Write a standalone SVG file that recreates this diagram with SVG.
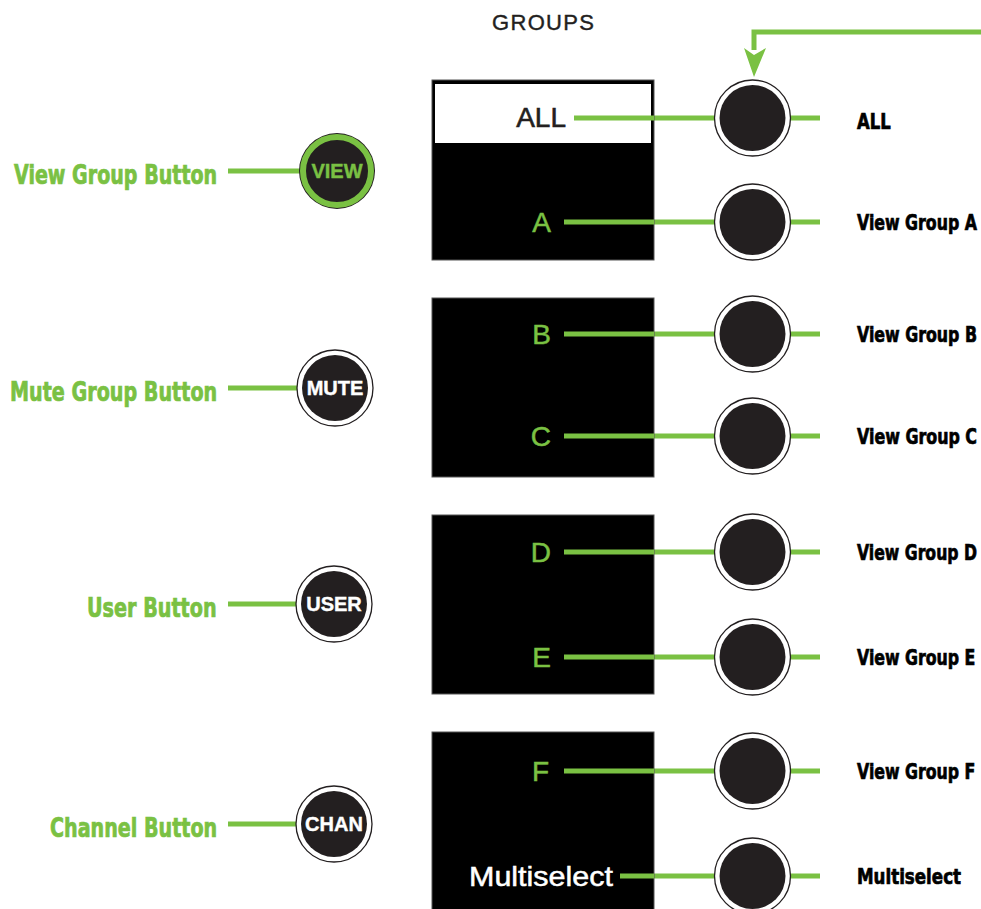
<svg xmlns="http://www.w3.org/2000/svg" width="981" height="909" viewBox="0 0 981 909">
<style>
.ln{stroke:#7ac143;stroke-width:5;fill:none}
.box{fill:#000;stroke:#555;stroke-width:1}
.ko{fill:#fff;stroke:#231f20;stroke-width:1.3}
.ki{fill:#231f20}
.bl{font-family:"Liberation Sans",Arial,sans-serif;font-size:28px;fill:#7ac143;stroke:#7ac143;stroke-width:0.5;text-anchor:end}
.rl{font-family:"DejaVu Sans Condensed","DejaVu Sans",sans-serif;font-weight:bold;font-stretch:condensed;font-size:22px;fill:#000;stroke:#000;stroke-width:0.7}
.ll{font-family:"DejaVu Sans Condensed","DejaVu Sans",sans-serif;font-weight:bold;font-stretch:condensed;font-size:26px;fill:#7ac143;stroke:#7ac143;stroke-width:0.7}
.bt{font-family:"Liberation Sans",Arial,sans-serif;font-weight:bold;font-size:20px;fill:#fff;stroke:#fff;stroke-width:0.4;text-anchor:middle}
</style>
<rect width="981" height="909" fill="#fff"/>
<text x="543" y="30" font-family="Liberation Sans,Arial,sans-serif" font-size="22" fill="#231f20" stroke="#231f20" stroke-width="0.4" text-anchor="middle" textLength="102">GROUPS</text>

<g id="connectors">
<path class="ln" d="M981,32 H754 V50"/>
<path d="M744,48 L754,55 L766,48 L754,77 Z" fill="#7ac143"/>
<line class="ln" x1="228" y1="171" x2="300" y2="171"/>
<line class="ln" x1="228" y1="388" x2="300" y2="388"/>
<line class="ln" x1="228" y1="604" x2="300" y2="604"/>
<line class="ln" x1="228" y1="824" x2="300" y2="824"/>
<line class="ln" x1="574" y1="118" x2="720" y2="118"/>
<line class="ln" x1="564" y1="222" x2="720" y2="222"/>
<line class="ln" x1="564" y1="334" x2="720" y2="334"/>
<line class="ln" x1="564" y1="436" x2="720" y2="436"/>
<line class="ln" x1="564" y1="552" x2="720" y2="552"/>
<line class="ln" x1="564" y1="657" x2="720" y2="657"/>
<line class="ln" x1="564" y1="771" x2="720" y2="771"/>
<line class="ln" x1="620" y1="876" x2="720" y2="876"/>
<line class="ln" x1="786" y1="118" x2="820" y2="118"/>
<line class="ln" x1="786" y1="222" x2="820" y2="222"/>
<line class="ln" x1="786" y1="334" x2="820" y2="334"/>
<line class="ln" x1="786" y1="436" x2="820" y2="436"/>
<line class="ln" x1="786" y1="552" x2="820" y2="552"/>
<line class="ln" x1="786" y1="657" x2="820" y2="657"/>
<line class="ln" x1="786" y1="771" x2="820" y2="771"/>
<line class="ln" x1="786" y1="876" x2="820" y2="876"/>
</g>

<g id="box1">
<rect class="box" x="432" y="80" width="222" height="180"/>
<rect x="435" y="84" width="216" height="59" fill="#fff"/>
<line class="ln" x1="574" y1="118" x2="654" y2="118"/>
<text x="566" y="127" font-family="Liberation Sans,Arial,sans-serif" font-size="28" fill="#231f20" stroke="#231f20" stroke-width="0.6" text-anchor="end">ALL</text>
<text class="bl" x="551" y="232">A</text>
<line class="ln" x1="564" y1="222" x2="654" y2="222"/>
</g>
<g id="box2">
<rect class="box" x="432" y="298" width="222" height="179"/>
<text class="bl" x="551" y="344">B</text>
<line class="ln" x1="564" y1="334" x2="654" y2="334"/>
<text class="bl" x="551" y="446">C</text>
<line class="ln" x1="564" y1="436" x2="654" y2="436"/>
</g>
<g id="box3">
<rect class="box" x="432" y="515" width="222" height="179"/>
<text class="bl" x="551" y="562">D</text>
<line class="ln" x1="564" y1="552" x2="654" y2="552"/>
<text class="bl" x="551" y="667">E</text>
<line class="ln" x1="564" y1="657" x2="654" y2="657"/>
</g>
<g id="box4">
<rect class="box" x="432" y="732" width="222" height="190"/>
<text class="bl" x="549" y="781">F</text>
<line class="ln" x1="564" y1="771" x2="654" y2="771"/>
<text x="613" y="886" font-family="Liberation Sans,Arial,sans-serif" font-size="28" fill="#fff" stroke="#fff" stroke-width="0.5" text-anchor="end" textLength="144" lengthAdjust="spacingAndGlyphs">Multiselect</text>
<line class="ln" x1="620" y1="876" x2="654" y2="876"/>
</g>

<g id="view-btn">
<circle cx="337" cy="171" r="38" fill="#231f20"/>
<circle cx="337" cy="171" r="34" fill="#231f20" stroke="#7ac143" stroke-width="6"/>
<text class="bt" x="337" y="178" style="fill:#7ac143;stroke:#7ac143">VIEW</text>
<text class="ll" transform="translate(14,184) scale(0.8,1)" textLength="254" lengthAdjust="spacingAndGlyphs">View Group Button</text>
</g>
<g id="mute-btn">
<circle class="ko" cx="335" cy="388" r="38"/>
<circle class="ki" cx="335" cy="388" r="33"/>
<text class="bt" x="335" y="395">MUTE</text>
<text class="ll" transform="translate(10,401) scale(0.8,1)" textLength="259" lengthAdjust="spacingAndGlyphs">Mute Group Button</text>
</g>
<g id="user-btn">
<circle class="ko" cx="334" cy="604" r="38"/>
<circle class="ki" cx="334" cy="604" r="33"/>
<text class="bt" x="334" y="611">USER</text>
<text class="ll" transform="translate(87,617) scale(0.8,1)" textLength="162" lengthAdjust="spacingAndGlyphs">User Button</text>
</g>
<g id="chan-btn">
<circle class="ko" cx="334" cy="824" r="38"/>
<circle class="ki" cx="334" cy="824" r="33"/>
<text class="bt" x="334" y="831">CHAN</text>
<text class="ll" transform="translate(50,837) scale(0.8,1)" textLength="209" lengthAdjust="spacingAndGlyphs">Channel Button</text>
</g>

<g id="k-all"><circle class="ko" cx="752.5" cy="118" r="38"/><circle class="ki" cx="752.5" cy="118" r="33"/><text class="rl" transform="translate(857,129) scale(0.8,1)" textLength="42" lengthAdjust="spacingAndGlyphs">ALL</text></g>
<g id="k-a"><circle class="ko" cx="752.5" cy="222" r="38"/><circle class="ki" cx="752.5" cy="222" r="33"/><text class="rl" transform="translate(857,230) scale(0.8,1)" textLength="150" lengthAdjust="spacingAndGlyphs">View Group A</text></g>
<g id="k-b"><circle class="ko" cx="752.5" cy="334" r="38"/><circle class="ki" cx="752.5" cy="334" r="33"/><text class="rl" transform="translate(857,342) scale(0.8,1)" textLength="150" lengthAdjust="spacingAndGlyphs">View Group B</text></g>
<g id="k-c"><circle class="ko" cx="752.5" cy="436" r="38"/><circle class="ki" cx="752.5" cy="436" r="33"/><text class="rl" transform="translate(857,444) scale(0.8,1)" textLength="150" lengthAdjust="spacingAndGlyphs">View Group C</text></g>
<g id="k-d"><circle class="ko" cx="752.5" cy="552" r="38"/><circle class="ki" cx="752.5" cy="552" r="33"/><text class="rl" transform="translate(857,560) scale(0.8,1)" textLength="150" lengthAdjust="spacingAndGlyphs">View Group D</text></g>
<g id="k-e"><circle class="ko" cx="752.5" cy="657" r="38"/><circle class="ki" cx="752.5" cy="657" r="33"/><text class="rl" transform="translate(857,665) scale(0.8,1)" textLength="148" lengthAdjust="spacingAndGlyphs">View Group E</text></g>
<g id="k-f"><circle class="ko" cx="752.5" cy="771" r="38"/><circle class="ki" cx="752.5" cy="771" r="33"/><text class="rl" transform="translate(857,779) scale(0.8,1)" textLength="148" lengthAdjust="spacingAndGlyphs">View Group F</text></g>
<g id="k-multi"><circle class="ko" cx="752.5" cy="876" r="38"/><circle class="ki" cx="752.5" cy="876" r="33"/><text class="rl" transform="translate(857,884) scale(0.8,1)" textLength="130" lengthAdjust="spacingAndGlyphs">Multiselect</text></g>
</svg>
